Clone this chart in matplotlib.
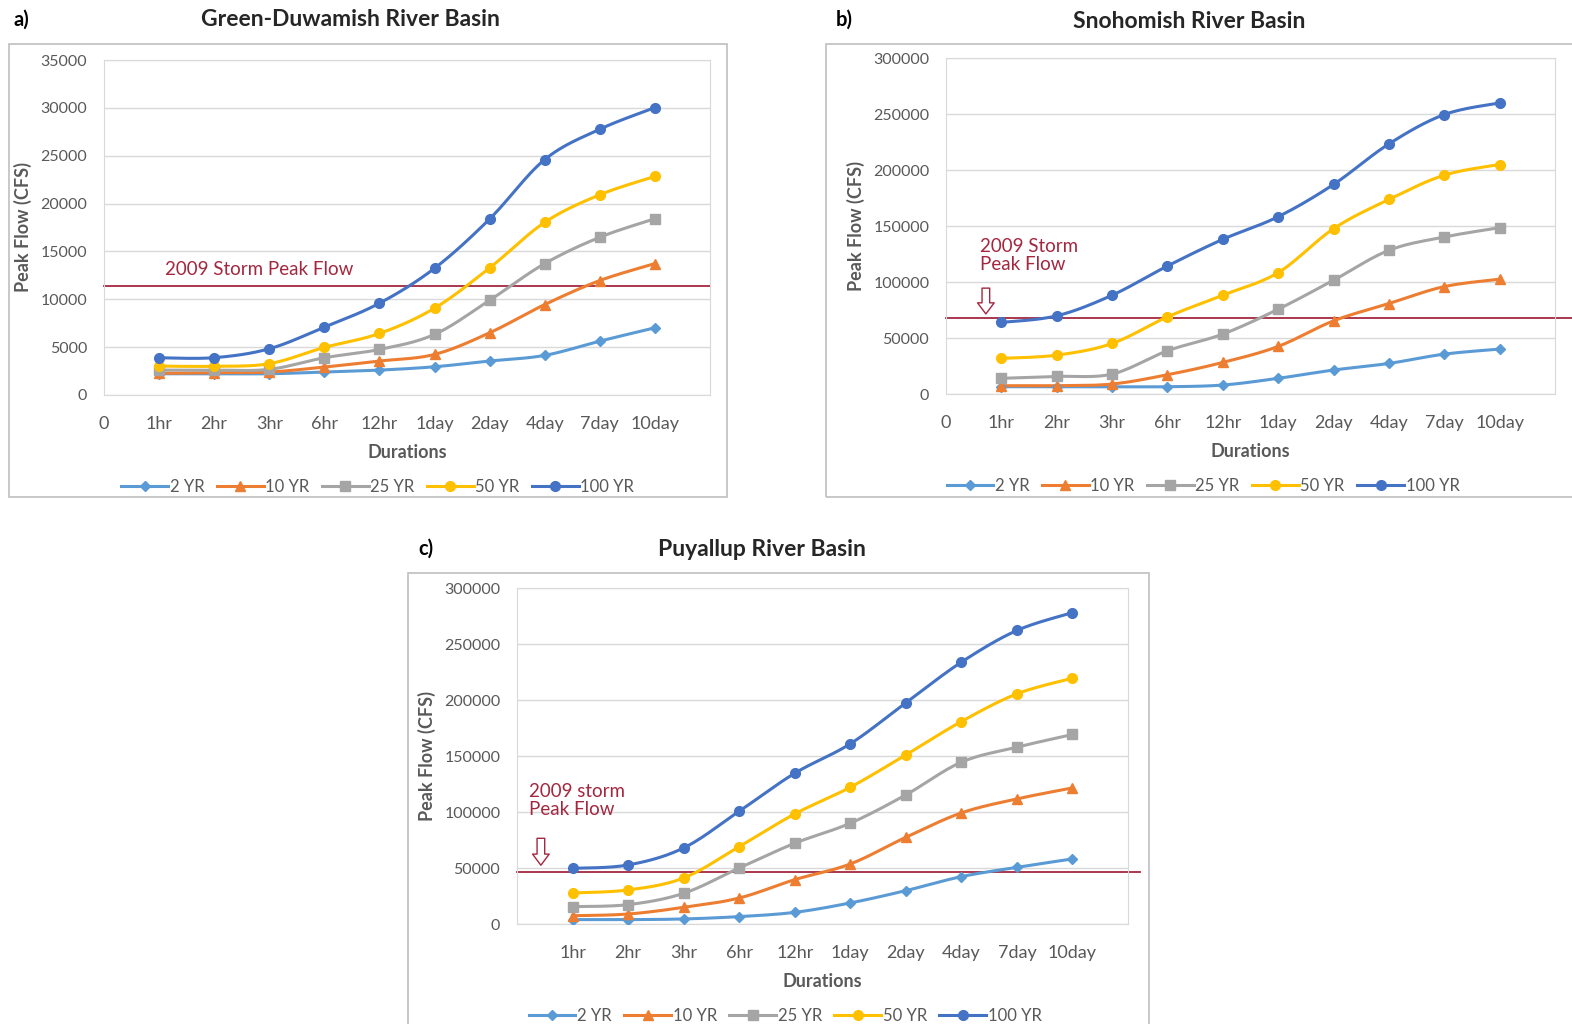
import numpy as np
import matplotlib
matplotlib.use("Agg")
import matplotlib.pyplot as plt
from matplotlib.lines import Line2D
from matplotlib.patches import Rectangle

plt.rcParams['font.family'] = ['Lato', 'DejaVu Sans']

durations = ['1hr', '2hr', '3hr', '6hr', '12hr', '1day', '2day', '4day', '7day', '10day']
series_names = ['2 YR', '10 YR', '25 YR', '50 YR', '100 YR']
colors = ['#5B9BD5', '#ED7D31', '#A5A5A5', '#FFC000', '#4472C4']
markers = ['D', '^', 's', 'o', 'o']
msizes = [5, 7, 7, 7, 7]

# Green-Duwamish
gd_2 = [2220, 2220, 2220, 2400, 2600, 2950, 3550, 4140, 5630, 7020]
gd_10 = [2260, 2330, 2400, 2920, 3550, 4240, 6500, 9450, 11960, 13730]
gd_25 = [2600, 2600, 2680, 3890, 4760, 6330, 9900, 13730, 16480, 18420]
gd_50 = [3020, 3000, 3270, 4970, 6430, 9070, 13280, 18040, 20920, 22840]
gd_100 = [3890, 3900, 4830, 7090, 9590, 13240, 18390, 24600, 27770, 30030]
gd_storm = 11350

# Snohomish
sn_2 = [6500, 6500, 6500, 6500, 8000, 14000, 21400, 27300, 35600, 40100]
sn_10 = [7400, 7400, 8900, 17200, 28200, 42500, 65300, 80800, 95900, 102500]
sn_25 = [14000, 15700, 17800, 38600, 53500, 75700, 101600, 128300, 140200, 148500]
sn_50 = [31800, 34700, 45100, 68900, 88200, 108400, 147600, 173700, 195400, 204900]
sn_100 = [63900, 69800, 88200, 114300, 138100, 158300, 187100, 223300, 249500, 259900]
sn_storm = 67500

# Puyallup
pu_2 = [3900, 3900, 4500, 6600, 10400, 18800, 29800, 42300, 50600, 58100]
pu_10 = [7400, 8900, 14900, 23200, 39600, 53600, 77400, 99200, 111700, 121500]
pu_25 = [15500, 17300, 27400, 50000, 72100, 90000, 115300, 144500, 157900, 169200]
pu_50 = [27700, 30400, 41100, 69100, 98300, 122100, 151000, 180800, 205500, 219500]
pu_100 = [49700, 52700, 67900, 100700, 134600, 160900, 197500, 233800, 262100, 278000]
pu_storm = 46000

storm_color = '#A3273F'
text_gray = '#595959'
grid_gray = '#D9D9D9'


def smooth(x, y, n=16):
    # Catmull-Rom curve through the points, like Excel's smoothed lines
    x = np.asarray(x, float)
    y = np.asarray(y, float)
    px = np.concatenate([[x[0]], x, [x[-1]]])
    py = np.concatenate([[y[0]], y, [y[-1]]])
    xs, ys = [], []
    t = np.linspace(0, 1, n, endpoint=False)
    for i in range(1, len(px) - 2):
        for arr, out in ((px, xs), (py, ys)):
            p0, p1, p2, p3 = arr[i - 1], arr[i], arr[i + 1], arr[i + 2]
            out.extend(0.5 * (2 * p1 + (-p0 + p2) * t
                              + (2 * p0 - 5 * p1 + 4 * p2 - p3) * t ** 2
                              + (-p0 + 3 * p1 - 3 * p2 + p3) * t ** 3))
    xs.append(x[-1])
    ys.append(y[-1])
    return xs, ys


def panel(rect, data, ymax, ystep, storm, zero_label, line_end, leg_x):
    ax = fig.add_axes(rect)
    x = np.arange(1, len(durations) + 1)
    for vals, c, m, ms in zip(data, colors, markers, msizes):
        sx, sy = smooth(x, vals)
        ax.plot(sx, sy, color=c, lw=2.2, zorder=3)
        ax.plot(x, vals, ls='none', marker=m, ms=ms, color=c, zorder=4)
    ax.axhline(storm, xmin=0, xmax=line_end, color=storm_color, lw=1.3, zorder=2, clip_on=False)
    ax.set_xlim(0, 11)
    ax.set_ylim(0, ymax)
    ax.set_yticks(np.arange(0, ymax + 1, ystep))
    if zero_label:
        ax.set_xticks(np.arange(0, 11))
        ax.set_xticklabels(['0'] + durations)
    else:
        ax.set_xticks(x)
        ax.set_xticklabels(durations)
    ax.set_xticks(x, minor=True)
    ax.grid(True, which='minor', axis='x', color=grid_gray, lw=1)
    ax.grid(True, which='major', axis='y', color=grid_gray, lw=1)
    ax.set_axisbelow(True)
    ax.tick_params(which='both', length=0, labelsize=11.5, colors=text_gray, pad=12)
    ax.tick_params(axis='x', pad=15, labelsize=13)
    for s in ax.spines.values():
        s.set_color(grid_gray)
    ax.set_ylabel('Peak Flow (CFS)', fontsize=13, fontweight='bold', color=text_gray, labelpad=6)
    ax.set_xlabel('Durations', fontsize=13, fontweight='bold', color=text_gray, labelpad=9)
    handles = [Line2D([], [], color=c, marker=m, ms=ms, lw=2.2) for c, m, ms in zip(colors, markers, msizes)]
    ax.legend(handles, series_names, loc='upper center', bbox_to_anchor=(leg_x, -0.205), ncol=5,
              frameon=False, fontsize=12, labelcolor=text_gray, handlelength=2.8,
              handletextpad=0.1, columnspacing=0.75)
    return ax


fig = plt.figure(figsize=(15.72, 10.24), dpi=100)

W, H = 1572.0, 1024.0


def frac_rect(x0, y0, x1, y1):
    return [x0 / W, 1 - y1 / H, (x1 - x0) / W, (y1 - y0) / H]


# outer boxes
for x0, y0, x1, y1 in [(9, 44, 727, 497), (826, 44, 1580, 497), (408, 573, 1149, 1030)]:
    r = frac_rect(x0, y0, x1, y1)
    fig.patches.append(Rectangle((r[0], r[1]), r[2], r[3], transform=fig.transFigure,
                                 fill=False, ec='#BFBFBF', lw=1.2, clip_on=False))

ax_a = panel(frac_rect(104, 60, 710, 395), [gd_2, gd_10, gd_25, gd_50, gd_100], 35000, 5000, gd_storm, True, 1.0, 0.452)
ax_b = panel(frac_rect(946, 58, 1555, 394), [sn_2, sn_10, sn_25, sn_50, sn_100], 300000, 50000, sn_storm, True, 1.03, 0.422)
ax_c = panel(frac_rect(517, 588, 1128, 924), [pu_2, pu_10, pu_25, pu_50, pu_100], 300000, 50000, pu_storm, False, 1.02, 0.439)

ax_a.text(1.1, 12200, '2009 Storm Peak Flow', color=storm_color, fontsize=13.5, va='bottom')
ax_b.text(0.62, 139000, '2009 Storm\nPeak Flow', color=storm_color, fontsize=13.5, va='top', linespacing=1.05)
ax_c.text(0.22, 126000, '2009 storm\nPeak Flow', color=storm_color, fontsize=13.5, va='top', linespacing=1.05)

arrow = dict(arrowstyle='simple,head_width=1.2,head_length=0.8,tail_width=0.55',
             fc='white', ec=storm_color, lw=1.0)
ax_b.annotate('', xy=(0.72, 69000), xytext=(0.72, 97000), arrowprops=arrow, annotation_clip=False)
ax_c.annotate('', xy=(0.43, 50000), xytext=(0.43, 79000), arrowprops=arrow, annotation_clip=False)

# titles and panel letters
fig.text(350 / W, 1 - 20 / H, 'Green-Duwamish River Basin', fontsize=16.5, fontweight='bold', ha='center', va='center', color='#262626')
fig.text(1189 / W, 1 - 21 / H, 'Snohomish River Basin', fontsize=16.5, fontweight='bold', ha='center', va='center', color='#262626')
fig.text(762 / W, 1 - 550 / H, 'Puyallup River Basin', fontsize=16.5, fontweight='bold', ha='center', va='center', color='#262626')
fig.text(14 / W, 1 - 20 / H, 'a)', fontsize=14.5, fontweight='bold', ha='left', va='center')
fig.text(836 / W, 1 - 20 / H, 'b)', fontsize=14.5, fontweight='bold', ha='left', va='center')
fig.text(418 / W, 1 - 549 / H, 'c)', fontsize=14.5, fontweight='bold', ha='left', va='center')

fig.savefig('out.png', dpi=100, facecolor='white')
